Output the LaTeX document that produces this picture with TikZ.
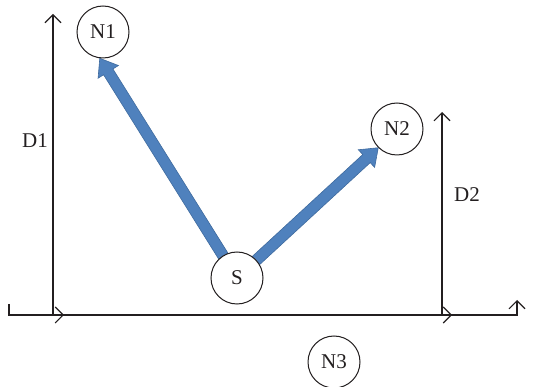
\documentclass[tikz,border=0pt]{standalone}
\usepackage{fontspec}
\setmainfont{Liberation Serif}
\usetikzlibrary{arrows.meta,calc}
\pgfdeclarelayer{bg}
\pgfsetlayers{bg,main}
\definecolor{ink}{HTML}{231F20}
\definecolor{arrowfill}{HTML}{4F81BD}
\definecolor{arrowedge}{HTML}{3E6A9E}
\tikzset{
  x=1pt,y=-1pt,
  circnode/.style={circle,draw=ink,line width=1pt,fill=white,minimum size=52pt,inner sep=0pt,
    font=\fontsize{21pt}{24pt}\selectfont,text=ink},
  lbl/.style={font=\fontsize{21pt}{24pt}\selectfont,text=ink,inner sep=0pt},
  axis/.style={draw=ink,line width=1.1pt,-{Straight Barb[length=8pt,width=16pt,line width=1.1pt]}},
  bigarrow/.style={fill=arrowfill,draw=arrowedge,line width=0.6pt,line join=miter}
}
\begin{document}
\begin{tikzpicture}
\useasboundingbox (0,0) rectangle (544,387);
% nodes
\node[circnode] (N1) at (103,32) {N1};
\node[circnode] (S) at (237,278) {S};
\node[circnode] (N2) at (397,129) {N2};
\node[circnode] (N3) at (334,362) {N3};
\node[lbl] (D1) at (35,141) {D1};
\node[lbl] (D2) at (467,195) {D2};
% axis points
\coordinate (tick) at (9,304);
\coordinate (corner) at (9,315);
\coordinate (a1) at (64,315);
\coordinate (o1) at (53,315);
\coordinate (a2) at (452,315);
\coordinate (o2) at (442,315);
\coordinate (rc) at (517,315);
\coordinate (rtop) at (517,300);
\coordinate (d1top) at (53,14);
\coordinate (d2top) at (442,112);
% axes
\draw[axis] (tick) -- (corner) -- (a1);
\draw[axis] (o1) -- (a2);
\draw[axis] (o2) -- (rc) -- (rtop);
\draw[axis] (o1) -- (d1top);
\draw[axis] (o2) -- (d2top);
% blue block arrows
\begin{pgfonlayer}{bg}
\foreach \t/\ang in {N1/263,N2/225}{
  \coordinate (A) at (S.center);
  \coordinate (B) at (\t.\ang);
  \coordinate (H) at ($(B)!16pt!(A)$);
  \path[bigarrow]
    ($(A)!5.5pt!90:(B)$) -- ($(H)!5.5pt!90:(B)$) -- ($(H)!12pt!90:(B)$) -- (B)
    -- ($(H)!12pt!-90:(B)$) -- ($(H)!5.5pt!-90:(B)$) -- ($(A)!5.5pt!-90:(B)$) -- cycle;
}
\end{pgfonlayer}
\end{tikzpicture}
\end{document}
